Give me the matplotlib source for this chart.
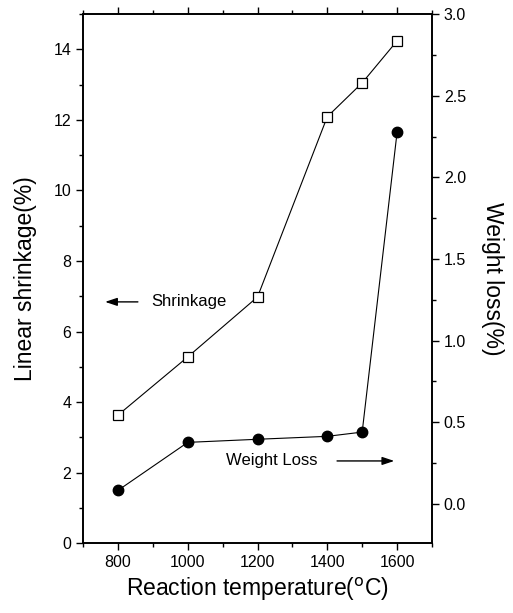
import numpy as np
import matplotlib.pyplot as plt
from matplotlib.ticker import MultipleLocator

plt.rcParams['font.family'] = ['Liberation Sans', 'DejaVu Sans']

temps = [800, 1000, 1200, 1400, 1500, 1600]
shrinkage = [3.63, 5.28, 6.98, 12.09, 13.05, 14.24]
weight_loss = [0.083, 0.377, 0.396, 0.414, 0.44, 2.275]


def main():
    fig = plt.figure(figsize=(5.13, 6.13), dpi=100)
    ax = fig.add_axes([0.162, 0.114, 0.680, 0.863])
    ax2 = ax.twinx()

    ax.plot(temps, shrinkage, color='black', lw=0.8, marker='s', ms=6.5,
            mfc='white', mec='black', mew=0.9)
    ax2.plot(temps, weight_loss, color='black', lw=0.8, marker='o', ms=7.5,
             mfc='black', mec='black')

    ax.set_xlim(700, 1700)
    ax.set_ylim(0, 15)
    ax2.set_ylim(-0.24, 3.0)

    ax.xaxis.set_major_locator(MultipleLocator(200))
    ax.xaxis.set_minor_locator(MultipleLocator(100))
    ax.yaxis.set_major_locator(MultipleLocator(2))
    ax.yaxis.set_minor_locator(MultipleLocator(1))
    ax2.yaxis.set_major_locator(MultipleLocator(0.5))
    ax2.yaxis.set_minor_locator(MultipleLocator(0.25))
    ax2.yaxis.set_major_formatter(lambda v, p: f'{v:.1f}')

    for a in (ax, ax2):
        for s in a.spines.values():
            s.set_linewidth(1.2)
        a.tick_params(which='both', direction='out', labelsize=11.5, width=1)
        a.tick_params(which='major', length=5)
        a.tick_params(which='minor', length=3)
    ax.tick_params(axis='x', top=True, which='both')

    ax.set_xlabel('Reaction temperature($^{\\mathrm{o}}$C)', fontsize=16.5)
    ax.set_ylabel('Linear shrinkage(%)', fontsize=16.5, labelpad=12)
    ax2.set_ylabel('Weight loss(%)', fontsize=16.5, rotation=270, labelpad=27)

    ax.annotate('', xy=(755, 6.84), xytext=(865, 6.84),
                arrowprops=dict(arrowstyle='-|>,head_length=0.6,head_width=0.2',
                                color='black', lw=1, mutation_scale=12))
    ax.text(895, 6.84, 'Shrinkage', fontsize=12, va='center')
    ax.text(1110, 2.33, 'Weight Loss', fontsize=12, va='center')
    ax.annotate('', xy=(1600, 2.33), xytext=(1420, 2.33),
                arrowprops=dict(arrowstyle='-|>,head_length=0.6,head_width=0.2',
                                color='black', lw=1, mutation_scale=12))

    fig.savefig('out.png', dpi=100)


if __name__ == '__main__':
    main()
